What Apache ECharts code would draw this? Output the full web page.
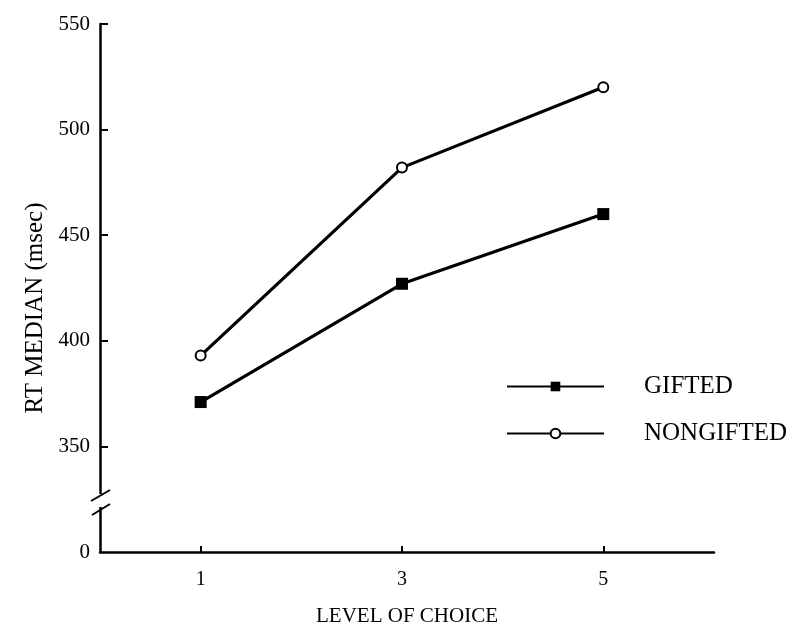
<!DOCTYPE html>
<html>
<head>
<meta charset="utf-8">
<script src="https://cdn.jsdelivr.net/npm/echarts@6/dist/echarts.min.js"></script>
<style>
html,body{margin:0;padding:0;background:#fff;}
#chart{width:800px;height:632px;}
</style>
</head>
<body>
<div id="chart"></div>
<script>
// Data
var levels = [1, 3, 5];
var gifted = [371, 427, 460];
var nongifted = [393, 482, 520];
var xTickValues = [1, 3, 5];
var yTickValues = [350, 400, 450, 500, 550];
var seriesNames = ['GIFTED', 'NONGIFTED'];
var xAxisTitle = 'LEVEL OF CHOICE';
var yAxisTitle = 'RT MEDIAN (msec)';

var FONT = '"Liberation Serif", "DejaVu Serif", serif';
var chart = echarts.init(document.getElementById('chart'), null, {renderer: 'canvas'});

function pairs(xs, ys) { return xs.map(function (x, i) { return [x, ys[i]]; }); }

var option = {
  backgroundColor: '#fff',
  animation: false,
  grid: {left: 100, top: 24, width: 614, height: 534, containLabel: false},
  legend: {
    orient: 'vertical',
    left: 501,
    top: 369,
    itemWidth: 97,
    itemHeight: 12,
    itemGap: 22,
    data: seriesNames,
    textStyle: {fontFamily: FONT, fontSize: 25, color: '#000', padding: [0, 0, 0, 35]}
  },
  xAxis: {
    type: 'value',
    min: 0,
    max: 6.1,
    name: xAxisTitle,
    nameLocation: 'middle',
    nameGap: 54,
    nameTextStyle: {fontFamily: FONT, fontSize: 21, color: '#000'},
    axisLine: {show: true, lineStyle: {color: '#000', width: 2.5}},
    axisTick: {show: true, inside: true, length: 6, customValues: xTickValues, lineStyle: {color: '#000', width: 2}},
    axisLabel: {show: true, customValues: xTickValues, margin: 18, fontFamily: FONT, fontSize: 20, color: '#000'},
    splitLine: {show: false}
  },
  yAxis: {
    type: 'value',
    min: 300,
    max: 550,
    interval: 50,
    name: yAxisTitle,
    nameLocation: 'middle',
    nameGap: 52,
    nameTextStyle: {fontFamily: FONT, fontSize: 25, color: '#000', padding: [0, 40, 0, 0]},
    axisLine: {show: true, lineStyle: {color: '#000', width: 2.5}},
    axisTick: {show: true, inside: true, length: 8, customValues: yTickValues, lineStyle: {color: '#000', width: 2}},
    axisLabel: {
      show: true, margin: 10, fontFamily: FONT, fontSize: 21, color: '#000',
      formatter: function (v) { return v === 300 ? '0' : String(v); }
    },
    splitLine: {show: false}
  },
  series: [
    {
      name: seriesNames[0],
      type: 'line',
      data: pairs(levels, gifted),
      symbol: 'rect',
      symbolSize: 12,
      itemStyle: {color: '#000'},
      lineStyle: {color: '#000', width: 3.2}
    },
    {
      name: seriesNames[1],
      type: 'line',
      data: pairs(levels, nongifted),
      symbol: 'circle',
      symbolSize: 10,
      itemStyle: {color: '#fff', borderColor: '#000', borderWidth: 2},
      lineStyle: {color: '#000', width: 3.2}
    }
  ],
  graphic: [
    {type: 'rect', z: 100, shape: {x: 94, y: 494, width: 12, height: 13}, style: {fill: '#fff'}},
    {type: 'line', z: 101, shape: {x1: 91, y1: 501, x2: 110, y2: 490}, style: {stroke: '#000', lineWidth: 2}},
    {type: 'line', z: 101, shape: {x1: 92, y1: 515, x2: 110, y2: 504}, style: {stroke: '#000', lineWidth: 2}}
  ]
};
chart.setOption(option);
</script>
</body>
</html>
